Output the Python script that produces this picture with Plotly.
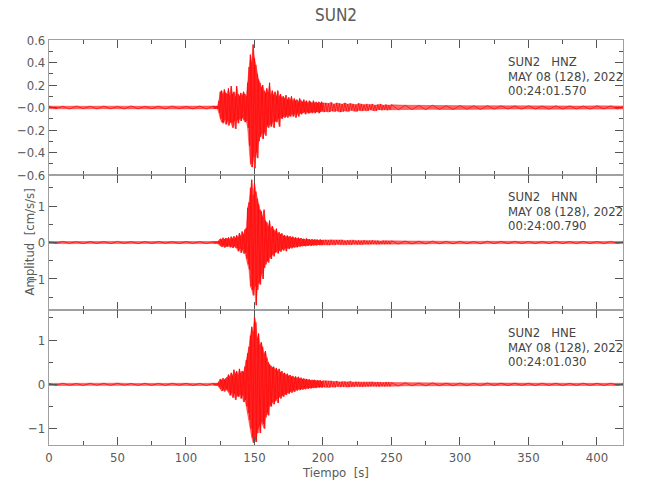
import plotly.graph_objects as go

# ---------------- data ----------------
station = "SUN2"
channels = ["HNZ", "HNN", "HNE"]
date_text = "MAY 08 (128), 2022"
start_times = ["00:24:01.570", "00:24:00.790", "00:24:01.030"]

# envelope sample times [s]
t_knots = (list(range(0, 121, 10)) + list(range(121, 201)) +
           list(range(202, 251, 2)) + list(range(260, 421, 10)))

hnz_max = [0.012, 0.010, 0.013, 0.011, 0.012, 0.010, 0.014, 0.011, 0.012, 0.013, 0.010, 0.012, 0.013,
           0.012, 0.014, 0.013, 0.06, 0.14, 0.15, 0.12, 0.16, 0.13, 0.12, 0.17, 0.11, 0.19, 0.12, 0.14, 0.10,
           0.19, 0.12, 0.10, 0.13, 0.11, 0.14, 0.12, 0.10, 0.22, 0.36, 0.47, 0.40, 0.56, 0.44, 0.38, 0.30,
           0.25, 0.22, 0.18, 0.20, 0.15, 0.13, 0.17, 0.14, 0.22, 0.12, 0.15, 0.11, 0.14, 0.10, 0.15, 0.10,
           0.12, 0.09, 0.10, 0.08, 0.11, 0.07, 0.09, 0.07, 0.10, 0.06, 0.08, 0.06, 0.07, 0.05, 0.08, 0.06,
           0.05, 0.07, 0.05, 0.06, 0.04, 0.06, 0.05, 0.04, 0.06, 0.04, 0.05, 0.04, 0.05, 0.04, 0.05, 0.04,
           0.04, 0.035, 0.045, 0.03, 0.04, 0.035, 0.03, 0.04, 0.03, 0.035, 0.03, 0.025, 0.035, 0.03, 0.025,
           0.03, 0.025, 0.03, 0.02, 0.025, 0.03, 0.02, 0.025, 0.02, 0.025,
           0.02, 0.018, 0.02, 0.016, 0.018, 0.015, 0.016, 0.015, 0.014, 0.015, 0.013, 0.015, 0.014, 0.013,
           0.015, 0.014, 0.013]
hnz_min = [-0.011, -0.013, -0.010, -0.012, -0.011, -0.013, -0.012, -0.010, -0.013, -0.011, -0.012, -0.013, -0.011,
           -0.012, -0.011, -0.014, -0.05, -0.10, -0.13, -0.14, -0.11, -0.15, -0.12, -0.16, -0.13, -0.14, -0.18,
           -0.12, -0.19, -0.11, -0.14, -0.10, -0.12, -0.09, -0.11, -0.13, -0.12, -0.18, -0.34, -0.50, -0.53,
           -0.44, -0.54, -0.40, -0.45, -0.30, -0.26, -0.23, -0.28, -0.22, -0.25, -0.16, -0.18, -0.15, -0.17,
           -0.13, -0.18, -0.12, -0.13, -0.10, -0.17, -0.09, -0.10, -0.08, -0.09, -0.07, -0.09, -0.07, -0.08,
           -0.06, -0.08, -0.06, -0.09, -0.05, -0.08, -0.05, -0.06, -0.05, -0.04, -0.06, -0.04, -0.05, -0.05,
           -0.04, -0.05, -0.04, -0.05, -0.04, -0.04, -0.05, -0.04, -0.03, -0.04,
           -0.035, -0.04, -0.03, -0.035, -0.03, -0.04, -0.035, -0.03, -0.035, -0.025, -0.03, -0.035, -0.025,
           -0.03, -0.025, -0.03, -0.02, -0.025, -0.03, -0.02, -0.025, -0.02, -0.025, -0.02, -0.02,
           -0.018, -0.02, -0.016, -0.018, -0.015, -0.017, -0.015, -0.014, -0.016, -0.013, -0.015, -0.014,
           -0.013, -0.015, -0.013, -0.014, -0.013]

hnn_max = [0.025, 0.03, 0.022, 0.028, 0.025, 0.03, 0.024, 0.027, 0.03, 0.025, 0.028, 0.024, 0.027,
           0.026, 0.03, 0.028, 0.05, 0.10, 0.08, 0.13, 0.09, 0.12, 0.10, 0.14, 0.09, 0.16, 0.11, 0.17, 0.12,
           0.20, 0.15, 0.26, 0.18, 0.30, 0.22, 0.35, 0.40, 0.95, 1.10, 1.50, 1.72, 1.30, 1.65, 1.40, 1.20,
           1.05, 0.90, 0.85, 0.70, 0.90, 0.60, 0.55, 0.45, 0.60, 0.40, 0.45, 0.35, 0.30, 0.38, 0.25, 0.28,
           0.22, 0.25, 0.18, 0.20, 0.16, 0.19, 0.15, 0.17, 0.13, 0.16, 0.12, 0.14, 0.11, 0.13, 0.10, 0.12,
           0.09, 0.10, 0.08, 0.11, 0.08, 0.09, 0.07, 0.09, 0.07, 0.08, 0.07, 0.08, 0.06, 0.08, 0.06, 0.07,
           0.07, 0.06, 0.075, 0.055, 0.065, 0.06, 0.07, 0.05, 0.06, 0.055, 0.065, 0.05, 0.06, 0.05, 0.055,
           0.045, 0.05, 0.055, 0.045, 0.05, 0.04, 0.05, 0.045, 0.04, 0.045,
           0.04, 0.035, 0.038, 0.032, 0.035, 0.03, 0.033, 0.03, 0.032, 0.028, 0.03, 0.032, 0.028, 0.03,
           0.027, 0.03, 0.028]
hnn_min = [-0.027, -0.023, -0.03, -0.025, -0.028, -0.024, -0.03, -0.026, -0.023, -0.028, -0.025, -0.03, -0.026,
           -0.028, -0.025, -0.03, -0.05, -0.09, -0.12, -0.08, -0.14, -0.10, -0.12, -0.09, -0.13, -0.11, -0.15,
           -0.10, -0.14, -0.16, -0.24, -0.18, -0.28, -0.20, -0.30, -0.28, -0.45, -0.60, -0.75, -1.20, -1.30,
           -1.45, -1.20, -1.72, -1.30, -1.10, -1.15, -0.85, -1.00, -0.70, -0.60, -0.50, -0.55, -0.40, -0.45,
           -0.32, -0.38, -0.28, -0.25, -0.30, -0.22, -0.25, -0.18, -0.22, -0.16, -0.24, -0.15, -0.18, -0.13,
           -0.16, -0.12, -0.14, -0.11, -0.13, -0.10, -0.11, -0.09, -0.10, -0.08, -0.10, -0.08, -0.09, -0.07,
           -0.09, -0.07, -0.08, -0.06, -0.08, -0.06, -0.07, -0.06, -0.07, -0.06,
           -0.06, -0.07, -0.055, -0.065, -0.05, -0.06, -0.055, -0.065, -0.05, -0.06, -0.045, -0.055, -0.05,
           -0.055, -0.045, -0.05, -0.045, -0.04, -0.05, -0.045, -0.04, -0.045, -0.04, -0.045, -0.04,
           -0.038, -0.04, -0.033, -0.036, -0.03, -0.034, -0.03, -0.032, -0.028, -0.031, -0.029, -0.03,
           -0.031, -0.027, -0.03, -0.028, -0.03]

hne_max = [0.022, 0.026, 0.02, 0.025, 0.023, 0.027, 0.021, 0.025, 0.022, 0.026, 0.024, 0.021, 0.025,
           0.024, 0.022, 0.027, 0.06, 0.12, 0.10, 0.14, 0.11, 0.13, 0.16, 0.22, 0.18, 0.26, 0.20, 0.33, 0.24,
           0.30, 0.22, 0.35, 0.26, 0.30, 0.28, 0.40, 0.55, 0.70, 0.85, 1.10, 1.30, 1.20, 1.55, 1.40, 1.05,
           1.15, 0.90, 0.95, 0.85, 0.70, 0.75, 0.60, 0.50, 0.45, 0.42, 0.38, 0.40, 0.34, 0.37, 0.30, 0.35,
           0.27, 0.30, 0.24, 0.26, 0.21, 0.24, 0.19, 0.21, 0.17, 0.19, 0.15, 0.18, 0.14, 0.17, 0.13, 0.15,
           0.12, 0.13, 0.11, 0.12, 0.10, 0.11, 0.09, 0.10, 0.09, 0.10, 0.08, 0.09, 0.08, 0.09, 0.07, 0.08,
           0.08, 0.065, 0.075, 0.06, 0.07, 0.055, 0.065, 0.06, 0.055, 0.065, 0.05, 0.06, 0.055, 0.05, 0.055,
           0.045, 0.05, 0.055, 0.045, 0.05, 0.045, 0.04, 0.05, 0.045, 0.04,
           0.035, 0.03, 0.033, 0.028, 0.03, 0.027, 0.03, 0.026, 0.028, 0.025, 0.027, 0.026, 0.024, 0.027,
           0.025, 0.026, 0.024]
hne_min = [-0.024, -0.02, -0.026, -0.022, -0.025, -0.021, -0.026, -0.023, -0.025, -0.02, -0.024, -0.026, -0.022,
           -0.022, -0.026, -0.024, -0.06, -0.10, -0.15, -0.12, -0.16, -0.11, -0.13, -0.18, -0.25, -0.20, -0.30,
           -0.22, -0.35, -0.25, -0.28, -0.24, -0.32, -0.26, -0.40, -0.35, -0.50, -0.65, -0.80, -1.00, -1.20,
           -1.32, -1.25, -1.30, -1.10, -0.95, -1.10, -0.85, -0.90, -1.00, -0.75, -0.65, -0.70, -0.48, -0.50,
           -0.40, -0.45, -0.38, -0.33, -0.42, -0.28, -0.32, -0.25, -0.28, -0.22, -0.24, -0.19, -0.21, -0.16,
           -0.19, -0.14, -0.17, -0.12, -0.14, -0.11, -0.13, -0.10, -0.12, -0.09, -0.11, -0.08, -0.10, -0.08,
           -0.09, -0.07, -0.08, -0.07, -0.08, -0.06, -0.07, -0.06, -0.07, -0.06,
           -0.06, -0.07, -0.055, -0.065, -0.05, -0.06, -0.05, -0.055, -0.06, -0.05, -0.055, -0.045, -0.05,
           -0.055, -0.045, -0.05, -0.045, -0.04, -0.045, -0.05, -0.04, -0.045, -0.04, -0.045, -0.04,
           -0.032, -0.034, -0.028, -0.031, -0.027, -0.03, -0.026, -0.028, -0.025, -0.027, -0.024, -0.026,
           -0.025, -0.024, -0.026, -0.024, -0.025]

y_ranges = [[-0.6, 0.6], [-1.85, 1.85], [-1.37, 1.68]]
x_ticks = [0, 50, 100, 150, 200, 250, 300, 350, 400]
hnz_ticks = [-0.6, -0.4, -0.2, 0.0, 0.2, 0.4, 0.6]
hnz_ticktext = ["\u22120.6", "\u22120.4", "\u22120.2", "\u22120.0", "0.2", "0.4", "0.6"]
hn_ticks = [-1, 0, 1]
hn_ticktext = ["\u22121", "0", "1"]

# ---------------- figure ----------------
FONT = "Liberation Sans Narrow, DejaVu Sans Condensed, Roboto, sans-serif"
GRAY_TXT = "#5a5a5a"
AX_COL = "#a0a0a0"
TICK_COL = "#555555"


def zigzag(t, vmax, vmin):
    xs, ys = [], []
    n = len(t)
    for i in range(n):
        half = (t[i + 1] - t[i]) / 2 if i < n - 1 else 0
        xs += [t[i], t[i] + half]
        ys += [vmax[i], vmin[i]]
    return xs, ys


fig = go.Figure()
series = [(hnz_max, hnz_min), (hnn_max, hnn_min), (hne_max, hne_min)]
for k, (mx, mn) in enumerate(series):
    xa = "x" if k == 0 else f"x{k+1}"
    ya = "y" if k == 0 else f"y{k+1}"
    # envelope band (dense trace appears as a filled band)
    fig.add_trace(go.Scatter(x=t_knots + t_knots[::-1], y=mx + mn[::-1], mode="lines",
                             fill="toself", fillcolor="rgba(255,0,0,0.6)",
                             line=dict(color="rgba(255,0,0,0.5)", width=0.8),
                             xaxis=xa, yaxis=ya, hoverinfo="skip", showlegend=False))
    xs, ys = zigzag(t_knots, mx, mn)
    fig.add_trace(go.Scatter(x=xs, y=ys, mode="lines",
                             line=dict(color="#ff0000", width=0.7),
                             xaxis=xa, yaxis=ya,
                             hoverinfo="skip", showlegend=False))

domains = [[2/3, 1.0], [1/3, 2/3], [0.0, 1/3]]
common_x = dict(range=[0, 419], showline=True, linecolor=AX_COL, linewidth=1.2,
                mirror="allticks", ticks="inside", ticklen=8, tickcolor=TICK_COL,
                tickwidth=1, tickvals=x_ticks, showgrid=False, zeroline=False, automargin=False,
                minor=dict(ticks="inside", ticklen=4, dtick=25, tickcolor=TICK_COL, showgrid=False),
                tickfont=dict(family=FONT, size=13, color=GRAY_TXT))
common_y = dict(showline=True, linecolor=AX_COL, linewidth=1.2, mirror="allticks",
                ticks="inside", ticklen=8, tickcolor=TICK_COL, tickwidth=1,
                showgrid=False, zeroline=False, automargin=False,
                tickfont=dict(family=FONT, size=13, color=GRAY_TXT))

layout = dict(width=650, height=500, plot_bgcolor="white", paper_bgcolor="white",
              margin=dict(l=49, r=27, t=40, b=55), showlegend=False)
for k in range(3):
    xa = dict(common_x, anchor="y" if k == 0 else f"y{k+1}", domain=[0, 1],
              showticklabels=(k == 2))
    if k > 0:
        xa["matches"] = "x"
    ya = dict(common_y, domain=domains[k], range=y_ranges[k],
              anchor="x" if k == 0 else f"x{k+1}")
    if k == 0:
        ya.update(tickvals=hnz_ticks, ticktext=hnz_ticktext,
                  minor=dict(ticks="inside", ticklen=4, dtick=0.1, tickcolor=TICK_COL, showgrid=False))
    else:
        ya.update(tickvals=hn_ticks, ticktext=hn_ticktext,
                  minor=dict(ticks="inside", ticklen=4, dtick=0.5, tickcolor=TICK_COL, showgrid=False))
    layout["xaxis" if k == 0 else f"xaxis{k+1}"] = xa
    layout["yaxis" if k == 0 else f"yaxis{k+1}"] = ya

layout["xaxis3"]["title"] = dict(text="Tiempo  [s]", font=dict(family=FONT, size=13, color=GRAY_TXT),
                                  standoff=4)
fig.update_layout(**layout)

annotations = []
annotations.append(dict(text=station, x=0.5, y=(445 - 15) / 405, xref="paper", yref="paper",
                        xanchor="center", yanchor="middle", showarrow=False,
                        font=dict(family=FONT, size=17, color=GRAY_TXT)))
annotations.append(dict(text="Amplitud  [cm/s/s]", x=(29 - 49) / 574, y=0.5, xref="paper", yref="paper",
                        xanchor="center", yanchor="middle", textangle=-90, showarrow=False,
                        font=dict(family=FONT, size=13, color=GRAY_TXT)))
top_px = [61.5, 196.5, 332.5]
for k in range(3):
    lines = [f"{station}   {channels[k]}", date_text, start_times[k]]
    for j, txt in enumerate(lines):
        ypx = top_px[k] + 14.5 * j
        annotations.append(dict(text=txt, x=(506 - 49) / 574, y=(445 - ypx) / 405,
                                xref="paper", yref="paper", xanchor="left", yanchor="middle",
                                showarrow=False,
                                font=dict(family=FONT, size=13, color="#444444")))
fig.update_layout(annotations=annotations)

fig.write_html("out.html", config={"displayModeBar": False},
               post_script="document.body.style.margin='0';")
